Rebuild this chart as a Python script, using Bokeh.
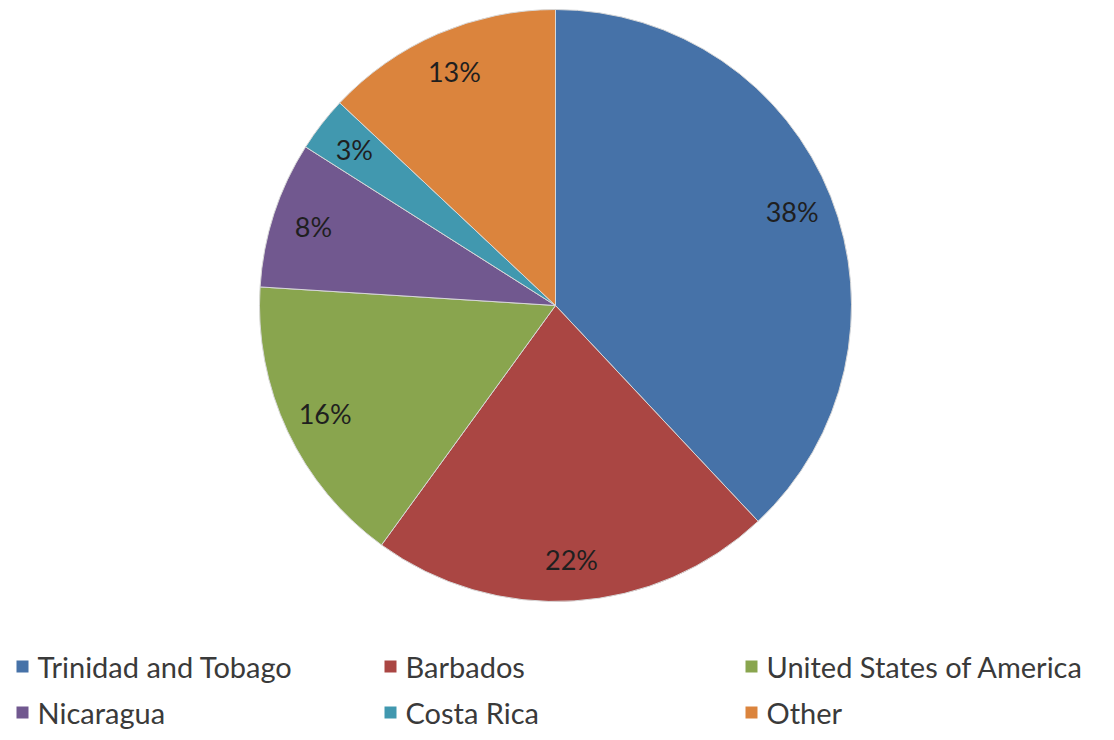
import math
from bokeh.plotting import figure
from bokeh.models import Range1d, ColumnDataSource
from bokeh.core.properties import value
from bokeh.embed import file_html
from bokeh.resources import INLINE

# ---- data ----
categories = ["Trinidad and Tobago", "Barbados", "United States of America",
              "Nicaragua", "Costa Rica", "Other"]
shares = [38, 22, 16, 8, 3, 13]
colors = ["#4672A8", "#AA4643", "#89A54E", "#71588F", "#4198AF", "#DB843D"]

W, H = 1114, 740
cx, cy, R = 555, 740 - 305, 296
label_r = 0.86 * R

total = float(sum(shares))
starts, ends, lx, ly, labels = [], [], [], [], []
cum = 0.0
for s in shares:
    a0 = math.pi / 2 - 2 * math.pi * cum / total
    a1 = math.pi / 2 - 2 * math.pi * (cum + s) / total
    starts.append(a0)
    ends.append(a1)
    mid = (a0 + a1) / 2
    lx.append(cx + label_r * math.cos(mid))
    ly.append(cy + label_r * math.sin(mid))
    labels.append(f"{round(100 * s / total)}%")
    cum += s

src = ColumnDataSource(dict(start=starts, end=ends, color=colors,
                            lx=lx, ly=ly, label=labels, cat=categories))

p = figure(width=W, height=H, x_range=Range1d(0, W), y_range=Range1d(0, H),
           output_backend="svg", toolbar_location=None, min_border=0,
           background_fill_color="white", border_fill_color="white")
p.axis.visible = False
p.grid.visible = False
p.outline_line_color = None

p.wedge(x=cx, y=cy, radius=R, start_angle="start", end_angle="end",
        direction="clock", fill_color="color", line_color="#d8d8d8",
        line_width=1, source=src)

p.text(x="lx", y="ly", text="label", source=src, text_align="center",
       text_baseline="middle", text_font=value("Lato"),
       text_font_size="27px", text_color="#1f1f1f")

# ---- legend (manual, 3 columns x 2 rows) ----
col_x = [16, 384, 745]
row_y = [740 - 666, 740 - 712]
sq_x, sq_y, tx, ty = [], [], [], []
for i, c in enumerate(categories):
    r, k = divmod(i, 3)
    sq_x.append(col_x[k] + 6)
    sq_y.append(row_y[r])
    tx.append(col_x[k] + 21)
    ty.append(row_y[r])
lsrc = ColumnDataSource(dict(x=sq_x, y=sq_y, tx=tx, ty=ty, color=colors, cat=categories))
p.rect(x="x", y="y", width=12, height=12, fill_color="color", line_color=None, source=lsrc)
p.text(x="tx", y="ty", text="cat", source=lsrc, text_align="left",
       text_baseline="middle", text_font=value("Lato"),
       text_font_size="29px", text_color="#3a3a3a")

open("out.html", "w").write(file_html(p, INLINE))
